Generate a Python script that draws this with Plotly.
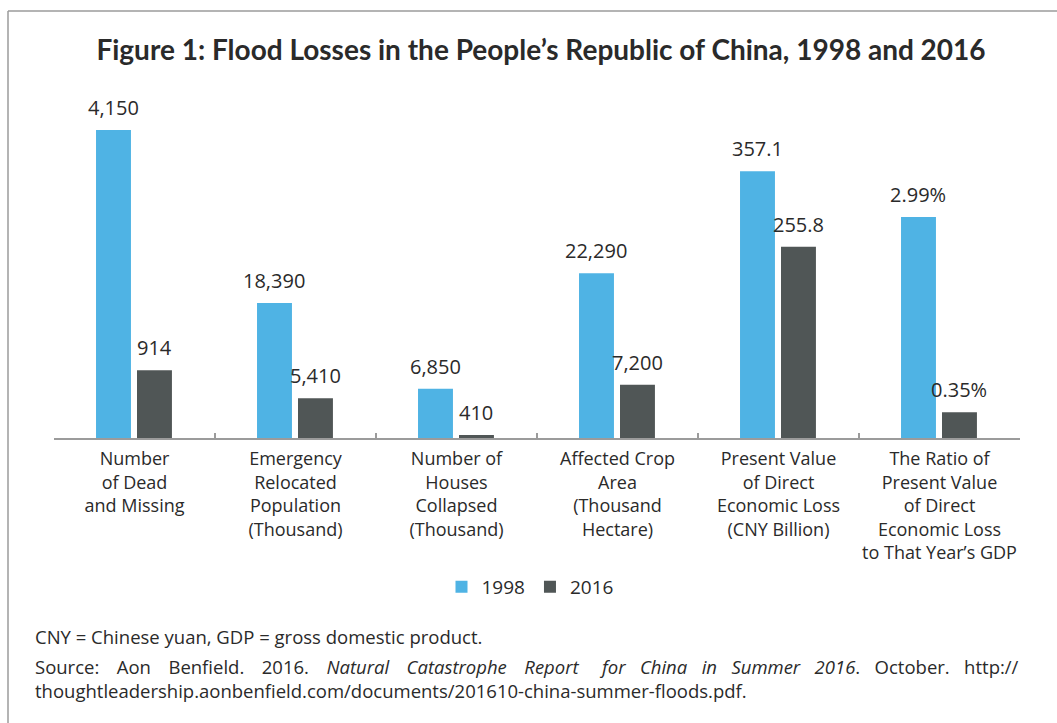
import plotly.graph_objects as go

# ---------------- data ----------------
categories = [
    "Number<br>of Dead<br>and Missing",
    "Emergency<br>Relocated<br>Population<br>(Thousand)",
    "Number of<br>Houses<br>Collapsed<br>(Thousand)",
    "Affected Crop<br>Area<br>(Thousand<br>Hectare)",
    "Present Value<br>of Direct<br>Economic Loss<br>(CNY Billion)",
    "The Ratio of<br>Present Value<br>of Direct<br>Economic Loss<br>to That Year\u2019s GDP",
]
values_1998 = [4150, 18390, 6850, 22290, 357.1, 2.99]
values_2016 = [914, 5410, 410, 7200, 255.8, 0.35]
labels_1998 = ["4,150", "18,390", "6,850", "22,290", "357.1", "2.99%"]
labels_2016 = ["914", "5,410", "410", "7,200", "255.8", "0.35%"]
# each category in the source is drawn on its own (hidden) value scale
axis_max = [4580, 46300, 47300, 46000, 455, 4.6]

title_text = "Figure 1: Flood Losses in the People\u2019s Republic of China, 1998 and 2016"
note_text = "CNY = Chinese yuan, GDP = gross domestic product."
source_left_words = ["Source:", "Aon", "Benfield.", "2016.", "<i>Natural", "Catastrophe", "Report</i>"]
source_right_words = ["<i>for", "China", "in", "Summer", "2016</i>.", "October.", "http://"]
source_line2 = "thoughtleadership.aonbenfield.com/documents/201610-china-summer-floods.pdf."

# ---------------- style ----------------
BLUE = "#4FB3E4"
DARK = "#505656"
TEXT = "#2a2a2a"
LINE = "#9b9b9b"
FONT = "Open Sans"
TITLE_FONT = "Lato"

W, H = 1057, 723
L, R, T, B = 54, 37, 98, 285
PW, PH = W - L - R, H - T - B

BAR_W = 0.217
OFF_1998 = -0.239
OFF_2016 = 0.0155


def px_x(px):
    return (px - L) / PW


def px_y(py):
    return (H - B - py) / PH


fig = go.Figure()
annotations = []
for i, cat in enumerate(categories):
    yax = "y" if i == 0 else f"y{i + 1}"
    fig.add_trace(go.Bar(
        x=[cat], y=[values_1998[i]], yaxis=yax, name="1998", legendgroup="1998",
        showlegend=(i == 0), marker=dict(color=BLUE, line=dict(width=0)),
        offset=OFF_1998, width=BAR_W,
    ))
    fig.add_trace(go.Bar(
        x=[cat], y=[values_2016[i]], yaxis=yax, name="2016", legendgroup="2016",
        showlegend=(i == 0), marker=dict(color=DARK, line=dict(width=0)),
        offset=OFF_2016, width=BAR_W,
    ))
    for val, lab, off in ((values_1998[i], labels_1998[i], OFF_1998),
                          (values_2016[i], labels_2016[i], OFF_2016)):
        annotations.append(dict(
            x=i + off + BAR_W / 2, y=val, xref="x", yref=yax,
            text=lab, showarrow=False, yanchor="bottom", xanchor="center",
            yshift=7, font=dict(family=FONT, size=20, color=TEXT),
        ))

layout_axes = {}
for i in range(len(categories)):
    key = "yaxis" if i == 0 else f"yaxis{i + 1}"
    ax = dict(range=[0, axis_max[i]], visible=False, showgrid=False, zeroline=False)
    if i > 0:
        ax["overlaying"] = "y"
    layout_axes[key] = ax

# footnotes
foot_font = dict(family=FONT, size=18.5, color=TEXT)
sep_left = "&nbsp;" * 3 + "\u2009"
sep_right = "&nbsp;" * 3
annotations += [
    dict(xref="paper", yref="paper", x=px_x(33), y=px_y(636), xanchor="left", yanchor="middle",
         text=note_text, showarrow=False, font=foot_font),
    dict(xref="paper", yref="paper", x=px_x(33), y=px_y(666), xanchor="left", yanchor="middle",
         text=sep_left.join(source_left_words), showarrow=False, font=foot_font),
    dict(xref="paper", yref="paper", x=px_x(1021), y=px_y(666), xanchor="right", yanchor="middle",
         text=sep_right.join(source_right_words), showarrow=False, font=foot_font),
    dict(xref="paper", yref="paper", x=px_x(33), y=px_y(690), xanchor="left", yanchor="middle",
         text=source_line2, showarrow=False, font=foot_font),
]

shapes = [
    dict(type="line", xref="paper", yref="paper", x0=px_x(8), x1=px_x(1057), y0=px_y(11), y1=px_y(11),
         line=dict(color=LINE, width=1.5)),
    dict(type="line", xref="paper", yref="paper", x0=px_x(8), x1=px_x(8), y0=px_y(11), y1=px_y(723),
         line=dict(color=LINE, width=1.5)),
]

fig.update_layout(
    width=W, height=H,
    margin=dict(l=L, r=R, t=T, b=B, pad=0, autoexpand=False),
    paper_bgcolor="white", plot_bgcolor="white",
    barmode="overlay",
    title=dict(text="<b>" + title_text + "</b>", x=541 / W, xanchor="center",
               y=1 - 50 / H, yanchor="middle", yref="container",
               font=dict(family=TITLE_FONT, size=28, color=TEXT)),
    xaxis=dict(
        type="category", categoryorder="array", categoryarray=categories,
        range=[-0.5, len(categories) - 0.5], automargin=False, tickangle=0,
        showline=True, linecolor=LINE, linewidth=1.5,
        ticks="inside", tickson="boundaries", ticklen=5, tickwidth=1.5, tickcolor=LINE,
        ticklabelstandoff=4,
        tickfont=dict(family=FONT, size=18, color=TEXT), showgrid=False,
    ),
    legend=dict(orientation="h", x=px_x(530), xanchor="center", y=px_y(587),
                yanchor="middle", font=dict(family=FONT, size=19, color=TEXT),
                traceorder="normal", itemwidth=30),
    annotations=annotations,
    shapes=shapes,
    showlegend=True,
    **layout_axes,
)

fig.write_html("out.html")
